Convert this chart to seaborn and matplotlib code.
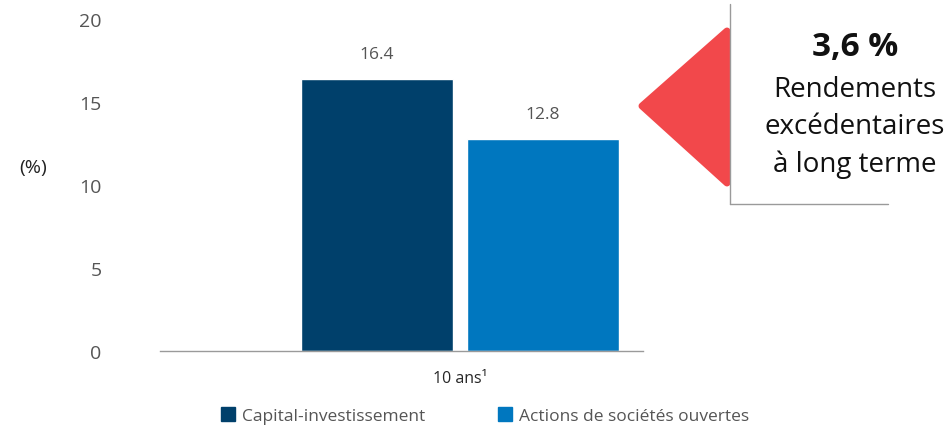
import matplotlib
matplotlib.use("Agg")
import matplotlib.pyplot as plt
import seaborn as sns
import pandas as pd
from matplotlib.patches import Polygon
from matplotlib.lines import Line2D

period = ["10 ans¹"]
series = ["Capital-investissement", "Actions de sociétés ouvertes"]
values = [16.4, 12.8]
yticks = [0, 5, 10, 15, 20]
excess_label = "3,6 %"
excess_lines = ["Rendements", "excédentaires", "à long terme"]

colors = ["#00406B", "#0077BF"]
red = "#F2484B"
gray_txt = "#555555"

df = pd.DataFrame({"periode": period * len(series), "serie": series, "rendement": values})

sns.set_theme(style="white")
plt.rcParams["font.family"] = ["Open Sans", "DejaVu Sans"]

fig = plt.figure(figsize=(9.52, 4.31), dpi=100)
ax = fig.add_axes([160 / 952, 1 - 352 / 431, 483 / 952, 332 / 431])

sns.barplot(data=df, x="periode", y="rendement", hue="serie", palette=colors,
            width=0.8, gap=0.084, saturation=1, ax=ax, legend=False)

for cont in ax.containers:
    ax.bar_label(cont, fmt="%.1f", padding=12, fontsize=12.5, color=gray_txt)

ax.set_ylim(0, 20)
ax.set_xlim(-0.723, 0.441)
ax.set_yticks(yticks)
ax.set_yticklabels([str(t) for t in yticks], fontsize=14, color=gray_txt)
ax.tick_params(axis="y", length=0, pad=42)
ax.tick_params(axis="x", length=0, pad=14, labelsize=11.5)
ax.set_xlabel("")
ax.set_ylabel("")
for s in ["top", "right", "left"]:
    ax.spines[s].set_visible(False)
ax.spines["bottom"].set_color("#9a9a9a")
ax.spines["bottom"].set_linewidth(1)
fig.text(33 / 952, 1 - 168 / 431, "(%)", fontsize=14, color="#222222", ha="center", va="center")

# legend
handles = [Line2D([], [], marker="s", linestyle="", markersize=10, color=c) for c in colors]
fig.legend(handles, series, loc="center", bbox_to_anchor=(480 / 952, 1 - 417 / 431),
           ncol=2, frameon=False, fontsize=12.5, handletextpad=-0.2, columnspacing=3.6,
           labelcolor=gray_txt)

# annotation
fig.add_artist(Line2D([730 / 952, 730 / 952], [1 - 5 / 431, 1 - 205 / 431],
                      transform=fig.transFigure, color="#9a9a9a", lw=1))
fig.add_artist(Line2D([730 / 952, 888 / 952], [1 - 205 / 431, 1 - 205 / 431],
                      transform=fig.transFigure, color="#9a9a9a", lw=1))
tri = Polygon([(642 / 952, 1 - 107 / 431), (727 / 952, 1 - 32 / 431), (727 / 952, 1 - 184 / 431)],
              closed=True, transform=fig.transFigure, facecolor=red, edgecolor=red,
              lw=5, joinstyle="round")
fig.add_artist(tri)
fig.text(855 / 952, 1 - 48 / 431, excess_label, fontsize=24, fontweight="bold",
         ha="center", va="center", color="#111111")
for i, line in enumerate(excess_lines):
    fig.text(855 / 952, 1 - (90 + 37.5 * i) / 431, line, fontsize=20, ha="center",
             va="center", color="#111111")

fig.savefig("out.png", dpi=100)
